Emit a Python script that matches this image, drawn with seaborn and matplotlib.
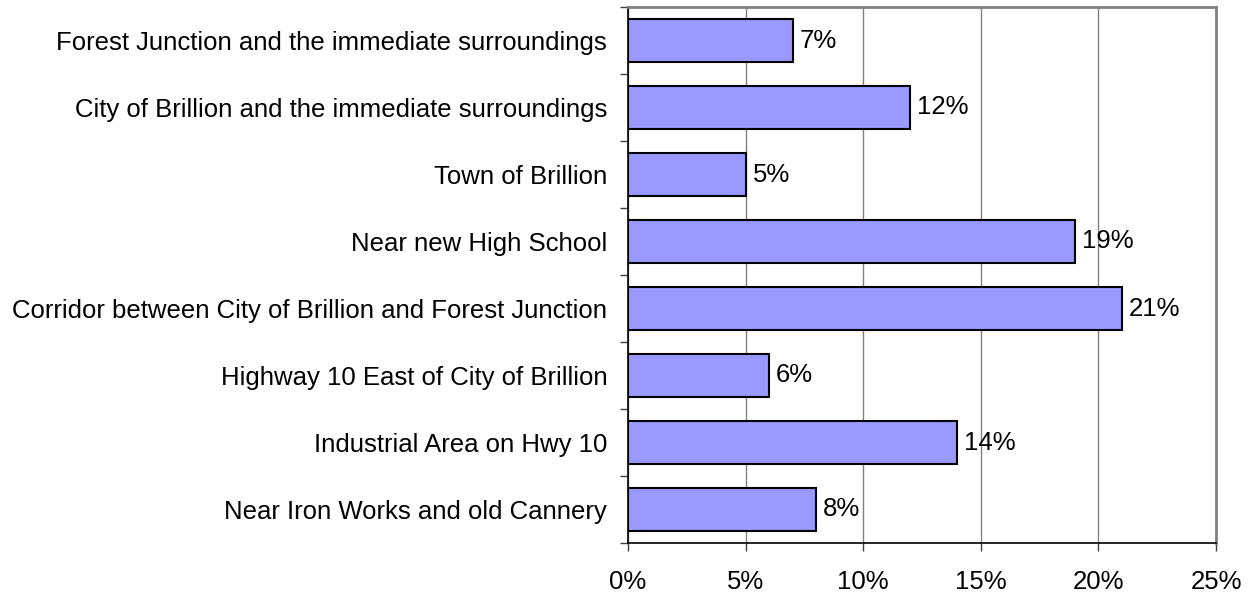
import pandas as pd
import matplotlib.pyplot as plt
import seaborn as sns

sns.set_style("white")
plt.rcParams['font.family'] = ['Liberation Sans', 'DejaVu Sans']
plt.rcParams['text.color'] = 'black'
plt.rcParams['xtick.color'] = 'black'
plt.rcParams['ytick.color'] = 'black'

locations = [
    'Forest Junction and the immediate surroundings',
    'City of Brillion and the immediate surroundings',
    'Town of Brillion',
    'Near new High School',
    'Corridor between City of Brillion and Forest Junction',
    'Highway 10 East of City of Brillion',
    'Industrial Area on Hwy 10',
    'Near Iron Works and old Cannery',
]
percent = [7, 12, 5, 19, 21, 6, 14, 8]

df = pd.DataFrame({'Location': locations, 'Percent': percent})

fig = plt.figure(figsize=(12.54, 5.97), dpi=100)
ax = fig.add_axes([628 / 1254, 1 - 543 / 597, (1216 - 628) / 1254, (543 - 7) / 597])

sns.barplot(data=df, y='Location', x='Percent', orient='h', color='#9999FF',
            saturation=1, edgecolor='black', linewidth=1.5, width=0.64, ax=ax)

fs = 18.5
ax.set_xlim(0, 25)
ax.set_ylim(len(locations) - 0.5, -0.5)
ax.set_xticks(range(0, 26, 5))
ax.set_xticklabels([f'{v}%' for v in range(0, 26, 5)], fontsize=fs)
ax.xaxis.grid(True, color='#808080', linewidth=1)
ax.set_axisbelow(True)

# category labels sit on bar centres, tick marks between bars
ax.set_yticks(range(len(locations)))
ax.set_yticklabels(locations, fontsize=fs)
ax.tick_params(axis='y', which='major', left=True, length=0, pad=15)
ax.set_yticks([i - 0.5 for i in range(len(locations) + 1)], minor=True)
ax.tick_params(axis='y', which='minor', left=True, length=6, width=1, color='#404040', direction='out')
ax.tick_params(axis='x', bottom=True, length=6, width=1, color='#404040', direction='out', pad=13.5)

ax.set_xlabel('')
ax.set_ylabel('')

for s in ['left', 'bottom']:
    ax.spines[s].set_color('black')
    ax.spines[s].set_linewidth(1.2)
for s in ['top', 'right']:
    ax.spines[s].set_color('#808080')
    ax.spines[s].set_linewidth(2)

for i, v in enumerate(percent):
    ax.text(v + 0.3, i, f'{v}%', va='center', ha='left', fontsize=fs)

fig.savefig('out.png', dpi=100)
